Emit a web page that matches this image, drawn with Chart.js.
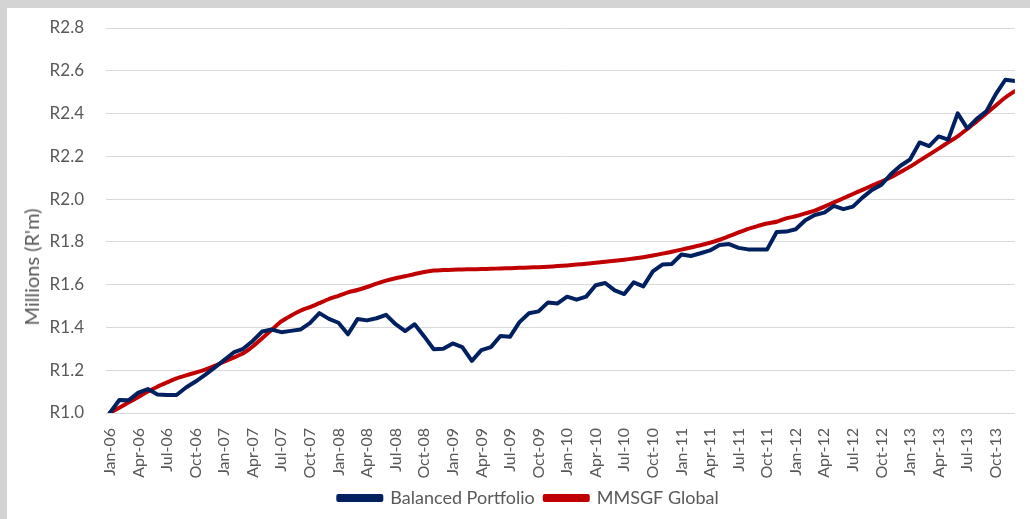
<!DOCTYPE html>
<html>
<head>
<meta charset="utf-8">
<script src="https://cdn.jsdelivr.net/npm/chart.js@4/dist/chart.umd.min.js"></script>
<style>
    html, body { margin: 0; padding: 0; background: #d4d4d4; width: 1030px; height: 519px; overflow: hidden; }
    #frame { position: absolute; left: 7px; top: 8px; width: 1023px; height: 511px; background: #fff; }
    #yTitle {
        position: absolute; left: 24px; top: 259px; /* centre in page coords ~ (31, 267) */
        transform: translate(-50%, -50%) rotate(-90deg);
        transform-origin: center; white-space: nowrap;
        font-family: Lato, sans-serif; font-size: 20px; color: #595959;
    }
</style>
</head>
<body>
<div id="frame">
    <canvas id="growth-chart"></canvas>
    <div id="yTitle">Millions (R'm)</div>
</div>
<script>
// --- DATA ---
// month index 0 = Jan-06 ... 95 = Dec-13, one label every 3 months
const tickLabels = ['Jan-06', 'Apr-06', 'Jul-06', 'Oct-06', 'Jan-07', 'Apr-07', 'Jul-07', 'Oct-07',
    'Jan-08', 'Apr-08', 'Jul-08', 'Oct-08', 'Jan-09', 'Apr-09', 'Jul-09', 'Oct-09',
    'Jan-10', 'Apr-10', 'Jul-10', 'Oct-10', 'Jan-11', 'Apr-11', 'Jul-11', 'Oct-11',
    'Jan-12', 'Apr-12', 'Jul-12', 'Oct-12', 'Jan-13', 'Apr-13', 'Jul-13', 'Oct-13'];
const tickMonths = [0, 3, 6, 9, 12, 15, 18, 21, 24, 27, 30, 33, 36, 39, 42, 45,
    48, 51, 54, 57, 60, 63, 66, 69, 72, 75, 78, 81, 84, 87, 90, 93];

const balancedPortfolio = [
    1.000, 1.061, 1.060, 1.095, 1.112, 1.087, 1.084, 1.084, 1.119, 1.147, 1.178, 1.212,
    1.247, 1.283, 1.300, 1.337, 1.381, 1.390, 1.378, 1.384, 1.390, 1.420, 1.467, 1.440,
    1.422, 1.368, 1.439, 1.433, 1.443, 1.459, 1.415, 1.383, 1.415, 1.358, 1.298, 1.300,
    1.325, 1.308, 1.244, 1.294, 1.308, 1.360, 1.356, 1.425, 1.466, 1.475, 1.517, 1.512,
    1.544, 1.530, 1.544, 1.597, 1.608, 1.573, 1.556, 1.611, 1.592, 1.662, 1.694, 1.697,
    1.741, 1.734, 1.747, 1.760, 1.785, 1.790, 1.772, 1.765, 1.765, 1.765, 1.846, 1.848,
    1.859, 1.901, 1.926, 1.937, 1.968, 1.953, 1.965, 2.007, 2.043, 2.067, 2.117, 2.156,
    2.185, 2.265, 2.248, 2.293, 2.278, 2.401, 2.331, 2.375, 2.410, 2.491, 2.558, 2.552
];
const mmsgfGlobal = [
    1.000, 1.025, 1.050, 1.075, 1.100, 1.123, 1.143, 1.162, 1.176, 1.189, 1.203, 1.220,
    1.240, 1.259, 1.279, 1.311, 1.350, 1.389, 1.428, 1.455, 1.478, 1.495, 1.514, 1.533,
    1.548, 1.564, 1.575, 1.589, 1.605, 1.619, 1.630, 1.639, 1.650, 1.659, 1.666, 1.668,
    1.670, 1.671, 1.672, 1.673, 1.674, 1.676, 1.677, 1.679, 1.680, 1.682, 1.684, 1.687,
    1.690, 1.694, 1.698, 1.702, 1.707, 1.712, 1.717, 1.722, 1.728, 1.736, 1.745, 1.754,
    1.764, 1.774, 1.784, 1.796, 1.810, 1.827, 1.844, 1.861, 1.874, 1.886, 1.894, 1.910,
    1.920, 1.933, 1.946, 1.965, 1.985, 2.004, 2.024, 2.043, 2.063, 2.082, 2.102, 2.127,
    2.152, 2.180, 2.208, 2.236, 2.265, 2.293, 2.328, 2.363, 2.400, 2.438, 2.475, 2.505
];

// --- STYLE ---
const BLUE = '#002060';
const RED = '#c00000';
const TEXT = '#595959';
const GRID = '#d9d9d9';
const FONT = 'Lato, sans-serif';

const toPoints = (arr) => arr.map((v, i) => ({ x: i, y: v }));

const ctx = document.getElementById('growth-chart').getContext('2d');
new Chart(ctx, {
    type: 'line',
    data: {
        datasets: [
            { label: 'Balanced Portfolio', data: toPoints(balancedPortfolio), borderColor: BLUE, backgroundColor: BLUE,
              borderWidth: 4, pointRadius: 0, tension: 0, borderJoinStyle: 'round', borderCapStyle: 'round' },
            { label: 'MMSGF Global', data: toPoints(mmsgfGlobal), borderColor: RED, backgroundColor: RED,
              borderWidth: 4, pointRadius: 0, tension: 0.2, borderJoinStyle: 'round', borderCapStyle: 'round' }
        ]
    },
    options: {
        responsive: true,
        maintainAspectRatio: false,
        animation: false,
        // left padding nudges the centred legend to the right, y axis width is reduced to match
        layout: { autoPadding: false, padding: { top: 20, right: 0, left: 20, bottom: 2 } },
        plugins: {
            tooltip: { enabled: false },
            legend: {
                position: 'bottom',
                labels: {
                    boxWidth: 43, boxHeight: 4, padding: 10,
                    color: TEXT, font: { family: FONT, size: 18 }
                }
            }
        },
        scales: {
            x: {
                type: 'linear',
                min: -0.4, max: 95,
                afterBuildTicks: (scale) => { scale.ticks = tickMonths.map(v => ({ value: v })); },
                afterFit: (scale) => { scale.height = 66; },
                grid: { display: false, drawTicks: false },
                border: { display: true, color: GRID, width: 1 },
                ticks: {
                    autoSkip: false, minRotation: 90, maxRotation: 90, padding: 15,
                    color: TEXT, font: { family: FONT, size: 16 },
                    callback: (v) => tickLabels[tickMonths.indexOf(v)]
                }
            },
            y: {
                min: 1.0, max: 2.8,
                afterFit: (scale) => {
                    scale.width = 79;
                    // tick padding would otherwise push the plot top down
                    scale.paddingTop = 0;
                    scale.paddingBottom = 0;
                },
                grid: { color: GRID, lineWidth: 1, drawTicks: false },
                border: { display: false },
                ticks: {
                    stepSize: 0.2, padding: 22,
                    color: TEXT, font: { family: FONT, size: 17 },
                    callback: (v) => 'R' + v.toFixed(1)
                }
            }
        }
    }
});
</script>
</body>
</html>
